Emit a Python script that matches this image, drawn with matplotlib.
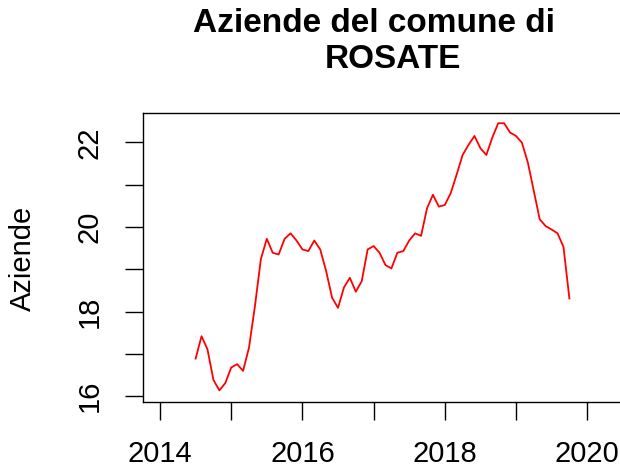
import matplotlib
matplotlib.use("Agg")
import matplotlib.pyplot as plt
import numpy as np

# Monthly number of companies, from July 2014
start_year = 2014.5
aziende = [16.89, 17.42, 17.11, 16.39, 16.14, 16.31, 16.68, 16.76, 16.60, 17.15,
           18.13, 19.24, 19.72, 19.39, 19.35, 19.72, 19.85, 19.68, 19.47, 19.43,
           19.68, 19.47, 18.96, 18.33, 18.09, 18.57, 18.80, 18.47, 18.72, 19.47,
           19.55, 19.39, 19.10, 19.02, 19.39, 19.43, 19.68, 19.85, 19.79, 20.44,
           20.76, 20.48, 20.52, 20.80, 21.24, 21.70, 21.94, 22.15, 21.86, 21.70,
           22.11, 22.45, 22.45, 22.23, 22.15, 21.99, 21.52, 20.85, 20.18, 20.02,
           19.94, 19.85, 19.53, 18.31]
x_ticks = [2014, 2015, 2016, 2017, 2018, 2019, 2020]
x_labels = ["2014", "", "2016", "", "2018", "", "2020"]
y_ticks = [16, 17, 18, 19, 20, 21, 22]
y_labels = ["16", "", "18", "", "20", "", "22"]

plt.rcParams['font.family'] = ['Liberation Sans', 'DejaVu Sans']

W, H = 620, 469
fig = plt.figure(figsize=(W / 100, H / 100), dpi=100)
left, right, top, bottom = 142.5, 630, 113.3, 402
ax = fig.add_axes([left / W, 1 - bottom / H, (right - left) / W, (bottom - top) / H])

time = start_year + np.arange(len(aziende)) / 12
ax.plot(time, aziende, color='red', linewidth=1.3)

px_per_year = 71.2
ax.set_xlim(2014 - (160 - left) / px_per_year, 2014 + (right - 160) / px_per_year)
px_per_unit = 42.33
ax.set_ylim(16 - (bottom - 396.3) / px_per_unit, 22 + (142.3 - top) / px_per_unit)

ax.set_xticks(x_ticks)
ax.set_xticklabels(x_labels)
ax.set_yticks(y_ticks)
ax.set_yticklabels(y_labels, rotation=90, va='center')
ax.tick_params(axis='both', length=13, width=1.0, labelsize=21, direction='out')
ax.tick_params(axis='x', pad=14)
ax.tick_params(axis='y', pad=15)
for s in ax.spines.values():
    s.set_linewidth(1.0)

fig.text(22.5 / W, 1 - 258 / H, "Aziende", fontsize=21, rotation=90,
         ha='center', va='center')

fig.text(374 / W, 1 - 31.7 / H, "Aziende del comune di", fontsize=24,
         fontweight='bold', ha='center', va='baseline')
fig.text(392.5 / W, 1 - 68.3 / H, "ROSATE", fontsize=24,
         fontweight='bold', ha='center', va='baseline')

fig.savefig("out.png", dpi=100)
